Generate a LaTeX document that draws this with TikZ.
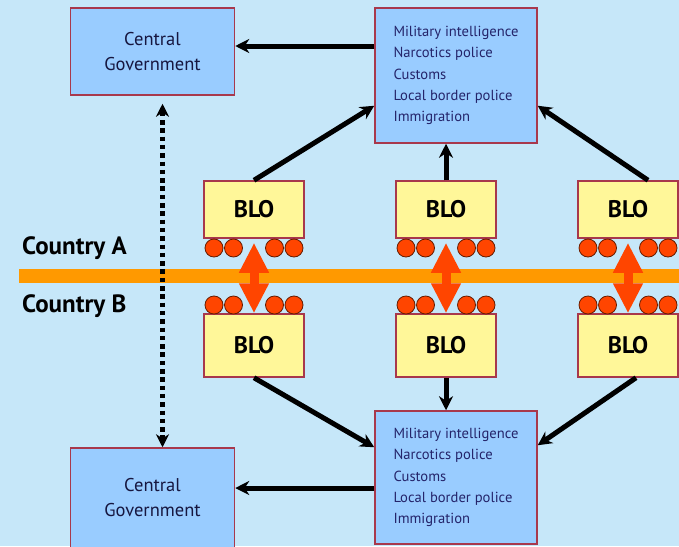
\documentclass[tikz,border=0pt]{standalone}
\usepackage{fontspec}
\setmainfont{PT Sans}
\usetikzlibrary{arrows.meta,positioning}
\definecolor{sky}{HTML}{C6E7F9}
\definecolor{boxblue}{HTML}{99CCFF}
\definecolor{boxyellow}{HTML}{FFF799}
\definecolor{rim}{HTML}{A8384C}
\definecolor{band}{HTML}{FF9900}
\definecolor{ballred}{HTML}{FF4500}
\definecolor{navy}{HTML}{24246A}
\tikzset{%
  arrow/.style={line width=5pt,-{Stealth[length=14pt,width=14pt]}},
  dotarrow/.style={line width=4.5pt,dash pattern=on 4.5pt off 3.8pt,{Stealth[length=13pt,width=13pt]}-{Stealth[length=13pt,width=13pt]}},
  swap/.style={draw=ballred,line width=9pt,{Triangle[length=30pt,width=28pt]}-{Triangle[length=30pt,width=28pt]}},
  govbox/.style={rectangle,draw=rim,line width=1.5pt,fill=boxblue,minimum width=164pt,align=center,text=navy!60!black,font=\fontsize{18.5}{25}\selectfont},
  unitbox/.style={rectangle,draw=rim,line width=1.5pt,fill=boxblue,minimum width=162pt,align=left,text=navy,font=\fontsize{14.6}{21.3}\selectfont},
  blobox/.style={rectangle,draw=rim,line width=1.5pt,fill=boxyellow,minimum width=100pt,font=\bfseries\fontsize{24}{26}\selectfont},
  ball/.style={circle,draw=ballred!40!black,line width=0.8pt,fill=ballred,minimum size=18pt,inner sep=0pt},
  country/.style={anchor=west,inner sep=0pt,font=\bfseries\fontsize{25}{28}\selectfont},
}

\begin{document}
\begin{tikzpicture}[x=1pt,y=-1pt]
  \useasboundingbox (0,0) rectangle (679,546);
  \clip (0,0) rectangle (679,546);
  \fill[sky] (0,0) rectangle (679,546);

  % border line
  \fill[band] (19,269) rectangle (679,283);
  \node[country] (countryA) at (22,248) {Country A};
  \node[country] (countryB) at (22,306) {Country B};

  % governments and agencies
  \node[govbox,minimum height=87pt] (govA) at (152.5,51.5) {Central\\Government};
  \node[govbox,minimum height=100pt] (govB) at (152.5,498) {Central\\Government};
  \node[unitbox,minimum height=135pt] (agencyA) at (456,75.5)
    {Military intelligence\\Narcotics police\\Customs\\Local border police\\Immigration};
  \node[unitbox,minimum height=133pt] (agencyB) at (456,477.5)
    {Military intelligence\\Narcotics police\\Customs\\Local border police\\Immigration};

  % border liaison offices
  \foreach \n/\x in {1/254,2/446,3/628} {
    \node[blobox,minimum height=57pt] (bloA\n) at (\x,209.5) {BLO};
    \node[blobox,minimum height=63pt] (bloB\n) at (\x,345.5) {BLO};
    \foreach \dx [count=\k] in {-40,-20.5,20.5,40} {
      \node[ball] (ballA\n\k) at (\x+\dx,248) {};
      \node[ball] (ballB\n\k) at (\x+\dx,305) {};
    }
    \draw[swap,shorten <=4pt] (bloA\n.south) -- (bloB\n.north);
  }

  % reporting lines
  \coordinate (tipA) at ([yshift=5.5pt]govA.east);
  \coordinate (tipB) at ([yshift=10pt]govB.east);
  \draw[arrow] (agencyA.west |- tipA) -- (tipA);
  \draw[arrow] (agencyB.west |- tipB) -- (tipB);
  \draw[dotarrow,shorten <=8pt] ([xshift=10pt]govA.south) -- ([xshift=10pt]govB.north);

  \draw[arrow] (bloA1.north) -- ([yshift=38pt]agencyA.south west);
  \draw[arrow] (bloA2.north) -- (bloA2.north |- agencyA.south);
  \draw[arrow] ([xshift=20pt]bloA3.north) -- ([yshift=38pt]agencyA.south east);
  \draw[arrow] (bloB1.south) -- ([yshift=-37pt]agencyB.north west);
  \draw[arrow] (bloB2.south) -- (bloB2.south |- agencyB.north);
  \draw[arrow] ([xshift=8pt]bloB3.south) -- ([yshift=-35pt]agencyB.north east);
\end{tikzpicture}
\end{document}
